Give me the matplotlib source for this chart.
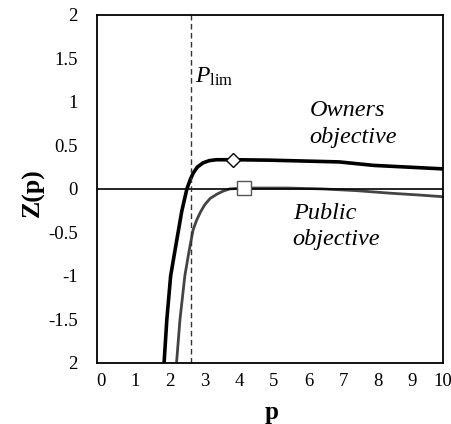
import matplotlib
matplotlib.use("Agg")
import matplotlib.pyplot as plt
from matplotlib.transforms import ScaledTranslation

plt.rcParams['font.family'] = 'Liberation Serif'
plt.rcParams['mathtext.fontset'] = 'custom'
plt.rcParams['mathtext.rm'] = 'Liberation Serif'
plt.rcParams['mathtext.it'] = 'Liberation Serif:italic'

# values
owners_p = [1.94, 2.02, 2.13, 2.25, 2.35, 2.45, 2.53, 2.6, 2.7, 2.78, 2.9, 3.07, 3.25, 3.45, 4.0, 5.0, 6.0, 7.0, 7.5, 8.0, 9.0, 10.0]
owners_z = [-2.0, -1.5, -1.0, -0.72, -0.49, -0.26, -0.12, 0.0, 0.11, 0.18, 0.25, 0.30, 0.325, 0.335, 0.335, 0.33, 0.32, 0.31, 0.29, 0.27, 0.25, 0.23]
public_p = [2.3, 2.4, 2.54, 2.66, 2.78, 2.88, 3.0, 3.12, 3.27, 3.47, 3.65, 3.84, 4.25, 5.5, 6.5, 7.5, 8.5, 9.3, 10.0]
public_z = [-2.0, -1.5, -1.0, -0.72, -0.47, -0.36, -0.26, -0.18, -0.11, -0.06, -0.025, 0.0, 0.01, 0.01, 0.0, -0.02, -0.05, -0.07, -0.09]
p_lim = 2.72
owners_opt = (3.93, 0.33)
public_opt = (4.25, 0.01)

xticks = list(range(0, 11))
yticks = [-2, -1.5, -1, -0.5, 0, 0.5, 1, 1.5, 2]
ytick_labels = ['2', '-1.5', '-1', '-0.5', '0', '0.5', '1', '1.5', '2']

fig = plt.figure(figsize=(4.51, 4.24), dpi=100)
ax = fig.add_axes([0.215, 0.144, 0.767, 0.821])

ax.plot(owners_p, owners_z, color='black', lw=2.6, solid_joinstyle='round')
ax.plot(public_p, public_z, color='#444444', lw=2.0, solid_joinstyle='round')
ax.axhline(0, color='black', lw=1.2)
ax.axvline(p_lim, color='#333333', lw=1.0, ls=(0, (4, 2.5)))
ax.plot(*owners_opt, marker='D', ms=7, mfc='white', mec='black', mew=1.0)
ax.plot(*public_opt, marker='s', ms=10, mfc='white', mec='#555555', mew=1.0)

ax.text(2.83, 1.22, r'$P_{\mathrm{lim}}$', fontsize=17, va='baseline')
ax.text(6.15, 1.02, 'Owners\nobjective', fontsize=17.5, style='italic', va='top', ha='left', linespacing=1.35)
ax.text(5.66, -0.16, 'Public\nobjective', fontsize=17.5, style='italic', va='top', ha='left', linespacing=1.35)

ax.set_xlim(0, 10)
ax.set_ylim(-2, 2)
ax.set_xticks(xticks)
ax.set_yticks(yticks)
ax.set_yticklabels(ytick_labels)
ax.tick_params(length=0, labelsize=13.5)
ax.tick_params(axis='y', pad=14)
ax.tick_params(axis='x', pad=7)
# labels sit a few pixels right of the ticks in the original; keep "10" inside
for lab in ax.get_xticklabels():
    dx = 0.04 if lab.get_text() != '10' else 0.0
    lab.set_transform(lab.get_transform() + ScaledTranslation(dx, 0, fig.dpi_scale_trans))
for s in ax.spines.values():
    s.set_linewidth(1.3)

ax.set_ylabel('Z(p)', fontsize=18.5, fontweight='bold')
ax.yaxis.set_label_coords(-0.15, 0.49)
ax.set_xlabel('p', fontsize=18, fontweight='bold')
ax.xaxis.set_label_coords(0.506, -0.11)

fig.savefig('out.png', dpi=100)
